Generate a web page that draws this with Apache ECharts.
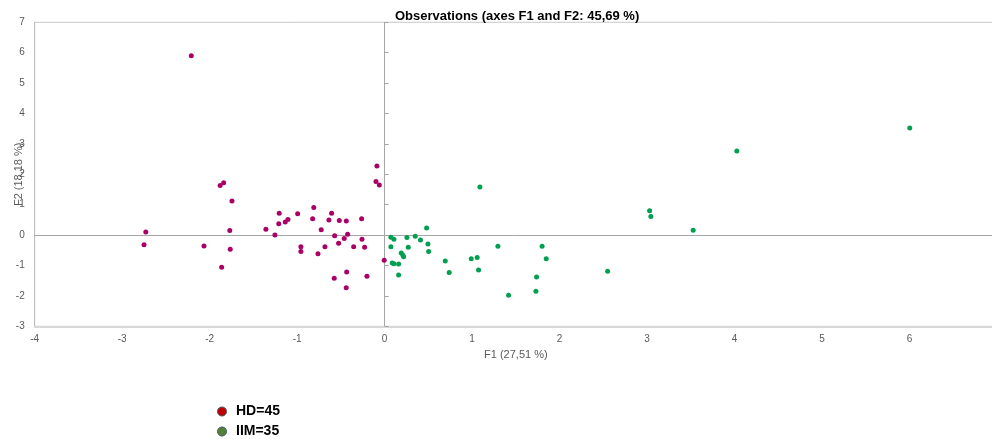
<!DOCTYPE html>
<html>
<head>
<meta charset="utf-8">
<script src="https://cdn.jsdelivr.net/npm/echarts@6/dist/echarts.min.js"></script>
<style>
  html, body { margin: 0; padding: 0; background: #fff; }
  #main { width: 992px; height: 439px; }
</style>
</head>
<body>
<div id="main"></div>
<script>
// HD group (F1, F2)
var hdF1 = [-2.21, -0.088, -1.88, -1.84, -0.099, -0.061, -1.745, -1.205, -0.994, -0.81, -0.606,
  -0.823, -0.637, -0.518, -0.438, -0.263, -1.21, -1.136, -1.105, -1.357, -1.254, -0.725,
  -1.77, -2.73, -2.75, -2.065, -1.765, -1.863, -0.957, -0.957, -0.762, -0.682, -0.571,
  -0.526, -0.462, -0.423, -0.354, -0.259, -0.229, -0.005, -0.576, -0.434, -0.439, -0.202];
var hdF2 = [5.90, 2.27, 1.63, 1.72, 1.76, 1.65, 1.125, 0.72, 0.70, 0.905, 0.72,
  0.54, 0.50, 0.48, 0.46, 0.54, 0.37, 0.43, 0.51, 0.19, 0.0, 0.18,
  0.15, 0.10, -0.32, -0.355, -0.465, -1.06, -0.38, -0.54, -0.61, -0.38, -0.02,
  -0.27, -0.11, 0.03, -0.38, -0.135, -0.40, -0.83, -1.42, -1.21, -1.73, -1.35];

// IIM group (F1, F2)
var iimF1 = [1.089, 0.072, 0.106, 0.072, 0.255, 0.35, 0.41, 0.48, 0.495, 0.503, 0.27, 0.19,
  0.217, 0.209, 0.087, 0.106, 0.16, 0.16, 0.693, 0.738, 0.99, 1.058, 1.074, 1.295, 1.417,
  1.80, 1.847, 1.737, 1.729, 2.549, 3.029, 3.043, 3.527, 4.026, 6.003];
var iimF2 = [1.585, -0.07, -0.135, -0.38, -0.08, -0.04, -0.16, 0.23, -0.29, -0.54, -0.40, -0.585,
  -0.71, -0.66, -0.915, -0.94, -0.95, -1.31, -0.85, -1.23, -0.78, -0.74, -1.145, -0.365, -1.98,
  -0.365, -0.78, -1.375, -1.845, -1.19, 0.80, 0.61, 0.16, 2.77, 3.52];

var xRange = [-4, 7];
var yRange = [-3, 7];
var groupNames = ['HD=45', 'IIM=35'];

function pairs(xs, ys) {
  return xs.map(function (v, i) { return [v, ys[i]]; });
}

var chart = echarts.init(document.getElementById('main'));

var labelStyle = { color: '#595959', fontSize: 10, fontFamily: 'Liberation Sans' };

// the legend markers use their own colours, not the series ones
function legendFor(name, color, top) {
  return {
    left: 217,
    top: top,
    padding: 0,
    itemWidth: 18,
    itemHeight: 9,
    icon: 'circle',
    textStyle: { fontSize: 14, lineHeight: 16, fontWeight: 'bold', color: '#000', fontFamily: 'Liberation Sans' },
    data: [{ name: name, itemStyle: { color: color, borderColor: '#44546a', borderWidth: 1 } }]
  };
}

var option = {
  animation: false,
  title: {
    text: 'Observations (axes F1 and F2: 45,69 %)',
    left: 395,
    top: 10,
    padding: 0,
    textStyle: { fontSize: 13, fontWeight: 'bold', color: '#000', fontFamily: 'Liberation Sans' }
  },
  legend: [
    legendFor(groupNames[0], '#c00000', 403.5),
    legendFor(groupNames[1], '#548235', 423.5)
  ],
  grid: {
    left: 34.7,
    top: 22.3,
    right: -5,
    bottom: 112.7,
    outerBoundsMode: 'none',
    containLabel: false,
    show: true,
    borderColor: '#c8c8c8',
    borderWidth: 1
  },
  xAxis: [
    {
      type: 'value', min: xRange[0], max: xRange[1], interval: 1,
      name: 'F1 (27,51 %)', nameLocation: 'middle', nameGap: 23, nameMoveOverlap: false,
      nameTextStyle: { color: '#595959', fontSize: 11, fontFamily: 'Liberation Sans' },
      axisLine: { show: true, onZero: false, lineStyle: { color: '#d9d9d9', width: 2 } },
      axisTick: { show: false },
      axisLabel: Object.assign({ margin: 8 }, labelStyle),
      splitLine: { show: false }
    },
    {
      type: 'value', min: xRange[0], max: xRange[1], interval: 1, position: 'top',
      axisLine: { show: true, onZero: true, lineStyle: { color: '#a6a6a6', width: 1 } },
      axisTick: { show: false },
      axisLabel: { show: false },
      splitLine: { show: false }
    }
  ],
  yAxis: [
    {
      type: 'value', min: yRange[0], max: yRange[1], interval: 1,
      name: 'F2 (18,18 %)', nameLocation: 'middle', nameGap: 10, nameMoveOverlap: false,
      nameTextStyle: { color: '#595959', fontSize: 11, fontFamily: 'Liberation Sans' },
      axisLine: { show: true, onZero: false, lineStyle: { color: '#bfbfbf', width: 1 } },
      axisTick: { show: false },
      axisLabel: Object.assign({ margin: 10 }, labelStyle),
      splitLine: { show: false }
    },
    {
      type: 'value', min: yRange[0], max: yRange[1], interval: 1, position: 'left',
      axisLine: { show: true, onZero: true, lineStyle: { color: '#a6a6a6', width: 1 } },
      axisTick: { show: true, inside: true, length: 4, lineStyle: { color: '#a6a6a6' } },
      axisLabel: { show: false },
      splitLine: { show: false }
    }
  ],
  series: [
    {
      name: groupNames[0],
      type: 'scatter',
      symbolSize: 5,
      itemStyle: { color: '#aa0066', opacity: 1 },
      data: pairs(hdF1, hdF2)
    },
    {
      name: groupNames[1],
      type: 'scatter',
      symbolSize: 5,
      itemStyle: { color: '#00a050', opacity: 1 },
      data: pairs(iimF1, iimF2)
    }
  ]
};

chart.setOption(option);
</script>
</body>
</html>
